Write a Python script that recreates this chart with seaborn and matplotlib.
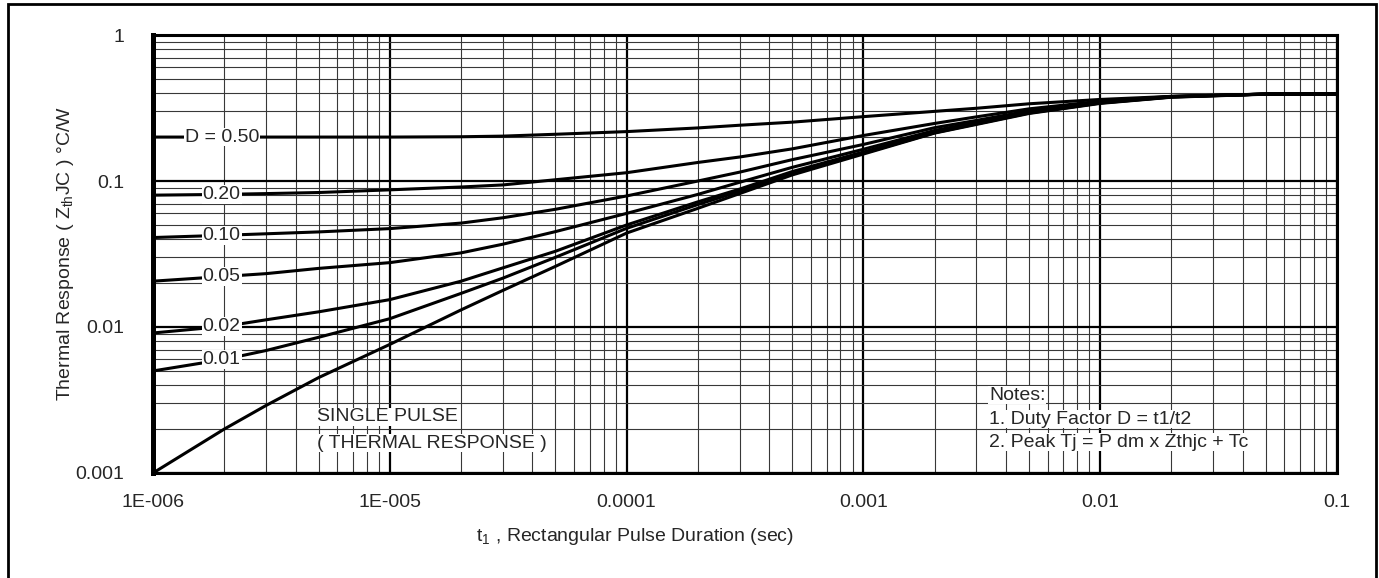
import matplotlib
matplotlib.use('Agg')
import matplotlib.pyplot as plt
import seaborn as sns
import pandas as pd
import numpy as np
from matplotlib.ticker import LogLocator, NullFormatter
from matplotlib.patches import Rectangle

sns.set_style('white')
plt.rcParams['font.family'] = ['Liberation Sans', 'DejaVu Sans']

# Pulse durations (sec) and read-off thermal response (degC/W)
t_sec = [1e-6, 2e-6, 3e-6, 5e-6, 1e-5, 2e-5, 3e-5, 5e-5, 1e-4, 2e-4, 3e-4, 5e-4,
         1e-3, 2e-3, 3e-3, 5e-3, 1e-2, 2e-2, 5e-2, 1e-1]

z_d50 = [0.200, 0.200, 0.200, 0.200, 0.200, 0.201, 0.203, 0.209, 0.218, 0.231, 0.241, 0.253,
         0.276, 0.300, 0.315, 0.338, 0.362, 0.380, 0.394, 0.395]
z_d20 = [0.080, 0.081, 0.082, 0.0834, 0.087, 0.091, 0.094, 0.102, 0.114, 0.134, 0.146, 0.166,
         0.205, 0.248, 0.275, 0.312, 0.352, 0.380, 0.394, 0.395]
z_d10 = [0.041, 0.0425, 0.0435, 0.0448, 0.0472, 0.0515, 0.056, 0.064, 0.079, 0.100, 0.115, 0.140,
         0.178, 0.232, 0.260, 0.302, 0.347, 0.379, 0.394, 0.395]
z_d05 = [0.0206, 0.0222, 0.0232, 0.0252, 0.0276, 0.0322, 0.0369, 0.045, 0.060, 0.081, 0.098, 0.124,
         0.165, 0.222, 0.252, 0.297, 0.345, 0.378, 0.394, 0.395]
z_d02 = [0.0091, 0.0101, 0.0112, 0.0127, 0.0154, 0.0206, 0.0254, 0.033, 0.050, 0.072, 0.088, 0.116,
         0.158, 0.217, 0.247, 0.294, 0.343, 0.377, 0.394, 0.395]
z_d01 = [0.0050, 0.0060, 0.0069, 0.0085, 0.0114, 0.0170, 0.0216, 0.030, 0.0474, 0.069, 0.085, 0.113,
         0.155, 0.214, 0.246, 0.292, 0.342, 0.376, 0.394, 0.395]
z_single = [0.0010, 0.0020, 0.0029, 0.0045, 0.0076, 0.0131, 0.0178, 0.026, 0.044, 0.065, 0.082, 0.110,
            0.153, 0.213, 0.244, 0.290, 0.340, 0.375, 0.393, 0.395]

curve_names = ['D = 0.50', '0.20', '0.10', '0.05', '0.02', '0.01', 'single']
curve_values = [z_d50, z_d20, z_d10, z_d05, z_d02, z_d01, z_single]

x_ticks = [1e-6, 1e-5, 1e-4, 1e-3, 1e-2, 1e-1]
x_tick_labels = ['1E-006', '1E-005', '0.0001', '0.001', '0.01', '0.1']
y_ticks = [0.001, 0.01, 0.1, 1]
y_tick_labels = ['0.001', '0.01', '0.1', '1']

rows = []
for name, vals in zip(curve_names, curve_values):
    for t, z in zip(t_sec, vals):
        rows.append({'t': t, 'z': z, 'curve': name})
df = pd.DataFrame(rows)

fig = plt.figure(figsize=(13.79, 5.78), dpi=100)
ax = fig.add_axes([0.111, 0.1817, 0.8585, 0.7577])

sns.lineplot(data=df, x='t', y='z', hue='curve', hue_order=curve_names,
             palette={n: 'black' for n in curve_names}, estimator=None,
             legend=False, linewidth=2.2, ax=ax, zorder=3)

ax.set_xscale('log')
ax.set_yscale('log')
ax.set_xlim(1e-6, 1e-1)
ax.set_ylim(1e-3, 1)
ax.set_xticks(x_ticks)
ax.set_xticklabels(x_tick_labels)
ax.set_yticks(y_ticks)
ax.set_yticklabels(y_tick_labels)
ax.xaxis.set_minor_locator(LogLocator(base=10, subs=np.arange(2, 10), numticks=20))
ax.yaxis.set_minor_locator(LogLocator(base=10, subs=np.arange(2, 10), numticks=20))
ax.xaxis.set_minor_formatter(NullFormatter())
ax.yaxis.set_minor_formatter(NullFormatter())

ax.set_axisbelow(True)
ax.grid(True, which='major', color='black', linewidth=1.6)
ax.grid(True, which='minor', color='#383838', linewidth=0.8)
ax.tick_params(which='both', length=0)
ax.tick_params(axis='x', pad=15, labelsize=14)
ax.tick_params(axis='y', pad=21, labelsize=14)

for side, sp in ax.spines.items():
    sp.set_visible(True)
    sp.set_color('black')
    sp.set_linewidth(3.6 if side == 'left' else 2.2)
    sp.set_zorder(6)

ax.set_xlabel(r't$_{\mathregular{1}}$ , Rectangular Pulse Duration (sec)', fontsize=14)
ax.xaxis.set_label_coords(0.407, -0.122)
ax.set_ylabel(r'Thermal Response ( Z$_{\mathregular{th}}$JC ) °C/W', fontsize=14)
ax.yaxis.set_label_coords(-0.065, 0.5)

# curve labels sitting on the lines
box = dict(facecolor='white', edgecolor='none', pad=0.5)
for name, vals in zip(curve_names[:-1], curve_values[:-1]):
    ax.text(1.95e-6, vals[1], name, ha='center', va='center', fontsize=14,
            bbox=box, zorder=5)

ax.text(4.93e-6, 0.00242, 'SINGLE PULSE', ha='left', va='center', fontsize=14,
        bbox=box, zorder=5)
ax.text(4.93e-6, 0.0016, '( THERMAL RESPONSE )', ha='left', va='center', fontsize=14,
        bbox=box, zorder=5)

ax.text(3.39e-3, 0.00342, 'Notes:', ha='left', va='center', fontsize=14,
        bbox=box, zorder=5)
ax.text(3.39e-3, 0.00234, '1. Duty Factor D = t1/t2', ha='left', va='center',
        fontsize=14, bbox=box, zorder=5)
ax.text(3.39e-3, 0.00163, '2. Peak Tj = P dm x Zthjc + Tc', ha='left', va='center',
        fontsize=14, bbox=box, zorder=5)

# outer frame around the whole picture
fig.patches.append(Rectangle((8 / 1379, -0.02), (1376 - 8) / 1379, 1.02 - 4 / 578,
                             transform=fig.transFigure, fill=False,
                             edgecolor='black', linewidth=2))

fig.savefig('out.png', dpi=100)
